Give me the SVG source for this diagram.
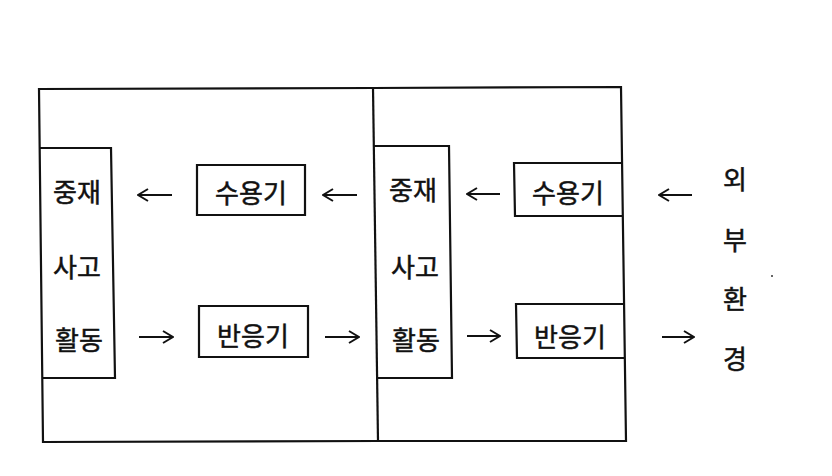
<svg xmlns="http://www.w3.org/2000/svg" width="832" height="476" viewBox="0 0 832 476">
<style>
.box{fill:none;stroke:#111;stroke-width:2.2;stroke-linejoin:miter}
.t{font-family:"Noto Sans CJK KR","Noto Sans",sans-serif;font-size:26px;fill:#111;stroke:#111;stroke-width:0.5;text-anchor:middle;dominant-baseline:central}
.arr{fill:none;stroke:#111;stroke-width:2}
</style>
<defs>
<marker id="ah" viewBox="0 0 12 14" refX="11" refY="7" markerWidth="12" markerHeight="14" markerUnits="userSpaceOnUse" orient="auto">
<path d="M1,1 L11,7 L1,13" fill="none" stroke="#111" stroke-width="2"/>
</marker>
</defs>
<rect width="832" height="476" fill="#fff"/>
<g id="frame">
<path class="box" d="M39,89 L373,88 L621,87 L626,441 L378,441 L43,442 Z"/>
<path class="box" d="M373,88 L378,441"/>
</g>
<g id="left-process">
<path class="box" d="M40,148 L111,148 L115,378 L42,378"/>
<text class="t" x="77" y="190">중재</text>
<text class="t" x="77" y="265">사고</text>
<text class="t" x="79" y="338">활동</text>
</g>
<g id="left-receptor">
<path class="box" d="M197,165 L305,165 L305,215 L197,215 Z"/>
<text class="t" x="251" y="191">수용기</text>
</g>
<g id="left-effector">
<path class="box" d="M199,306 L308,306 L308,357 L199,357 Z"/>
<text class="t" x="253" y="334">반응기</text>
</g>
<g id="right-process">
<path class="box" d="M374,146 L449,146 L452,378 L376,378"/>
<text class="t" x="413" y="188">중재</text>
<text class="t" x="415" y="265">사고</text>
<text class="t" x="416" y="338">활동</text>
</g>
<g id="right-receptor">
<path class="box" d="M621,163 L514,163 L515,216 L622,216"/>
<text class="t" x="568" y="191">수용기</text>
</g>
<g id="right-effector">
<path class="box" d="M623,304 L516,304 L517,358 L624,358"/>
<text class="t" x="570" y="335">반응기</text>
</g>
<g id="environment">
<text class="t" x="735" y="177">외</text>
<text class="t" x="735" y="238">부</text>
<text class="t" x="735" y="297">환</text>
<text class="t" x="735" y="357">경</text>
<circle cx="772" cy="276" r="1" fill="#333"/>
</g>
<g id="connectors">
<line class="arr" x1="172" y1="195" x2="138" y2="195" marker-end="url(#ah)"/>
<line class="arr" x1="139" y1="337" x2="173" y2="337" marker-end="url(#ah)"/>
<line class="arr" x1="357" y1="195" x2="323" y2="195" marker-end="url(#ah)"/>
<line class="arr" x1="325" y1="337" x2="359" y2="337" marker-end="url(#ah)"/>
<line class="arr" x1="500" y1="194" x2="467" y2="194" marker-end="url(#ah)"/>
<line class="arr" x1="467" y1="336" x2="500" y2="336" marker-end="url(#ah)"/>
<line class="arr" x1="692" y1="195" x2="659" y2="195" marker-end="url(#ah)"/>
<line class="arr" x1="662" y1="337" x2="694" y2="337" marker-end="url(#ah)"/>
</g>
</svg>
